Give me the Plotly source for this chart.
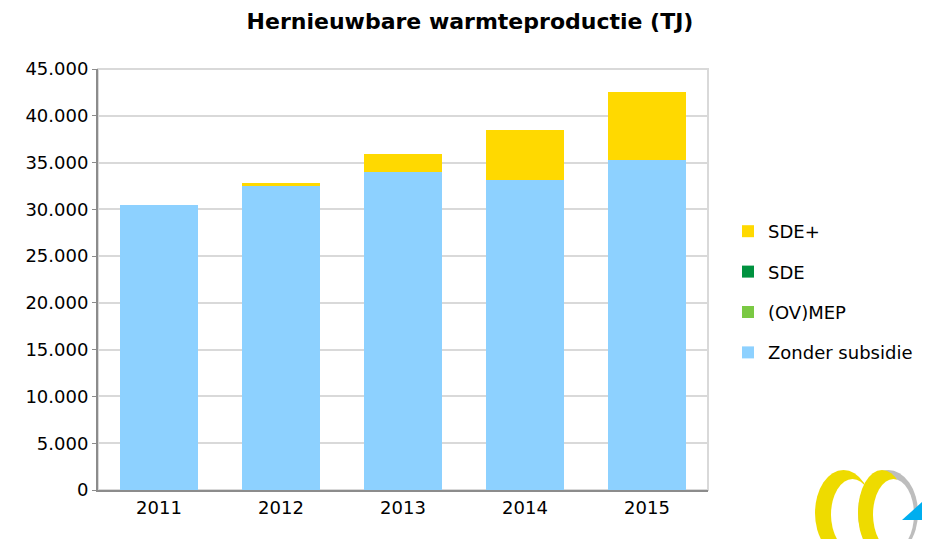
import plotly.graph_objects as go

years = ["2011", "2012", "2013", "2014", "2015"]
zonder_subsidie = [30500, 32450, 33950, 33100, 35300]
ov_mep = [0, 0, 0, 0, 0]
sde = [0, 0, 0, 0, 0]
sde_plus = [0, 400, 2000, 5350, 7200]
y_ticks = [0, 5000, 10000, 15000, 20000, 25000, 30000, 35000, 40000, 45000]
y_tick_labels = ["0", "5.000", "10.000", "15.000", "20.000", "25.000", "30.000", "35.000", "40.000", "45.000"]

FONT = "DejaVu Sans, sans-serif"

# page has an 8px body margin; figure is shifted by (8, 8)
OFF = 8
W, H = 930 - OFF, 539 - OFF
L, R, T, B = 98, 708, 69, 490  # plot area in page pixels

def px(x):
    return (x - L) / (R - L)

def py(y):
    return (B - y) / (B - T)

fig = go.Figure()
series = [
    ("Zonder subsidie", zonder_subsidie, "#8DD1FF", 4),
    ("(OV)MEP", ov_mep, "#7AC943", 3),
    ("SDE", sde, "#00923F", 2),
    ("SDE+", sde_plus, "#FFD900", 1),
]
for name, vals, col, rank in series:
    fig.add_trace(go.Bar(x=years, y=vals, name=name, marker=dict(color=col, line=dict(width=0)),
                         legendgroup=name, legendrank=rank))

def ell(x0, x1, y0, y1, col):
    return dict(type="circle", xref="paper", yref="paper", x0=px(x0), x1=px(x1),
                y0=py(y1), y1=py(y0), fillcolor=col, line=dict(width=0))

shapes = [
    dict(type="rect", xref="paper", yref="paper", x0=0, x1=1, y0=0, y1=1,
         line=dict(color="#D9D9D9", width=2), layer="below"),
    # logo
    ell(815, 872, 470, 556, "#EEDB00"),
    ell(831, 874, 479, 550, "#FFFFFF"),
    ell(858, 918, 470, 556, "#BDBDBD"),
    ell(858, 906, 470, 556, "#EEDB00"),
    ell(873, 914, 479, 550, "#FFFFFF"),
    dict(type="path", xref="paper", yref="paper",
         path=f"M {px(902)},{py(520)} L {px(931)},{py(520)} L {px(931)},{py(494)} Z",
         fillcolor="#00AEEF", line=dict(width=0)),
]

fig.update_layout(
    width=W, height=H,
    margin=dict(l=L - OFF, r=930 - R, t=T - OFF, b=539 - B, pad=0, autoexpand=False),
    paper_bgcolor="white", plot_bgcolor="white",
    barmode="stack", bargap=0.36,
    font=dict(family=FONT, size=18, color="#000000"),
    title=dict(text="<b>Hernieuwbare warmteproductie (TJ)</b>", x=(470 - OFF) / W, xanchor="center",
               y=1 - (21 - OFF) / H, yanchor="middle", yref="container",
               font=dict(family=FONT, size=22, color="#000000")),
    xaxis=dict(showgrid=False, showline=True, linecolor="#8C8C8C", linewidth=2,
               ticks="", tickfont=dict(size=18), fixedrange=True),
    yaxis=dict(range=[0, 45000], tickvals=y_ticks, ticktext=y_tick_labels,
               showgrid=True, gridcolor="#D9D9D9", gridwidth=2,
               showline=True, linecolor="#8C8C8C", linewidth=2,
               ticks="outside", ticklen=4, tickcolor="#8C8C8C",
               tickfont=dict(size=18), zeroline=False),
    legend=dict(x=px(728), y=py(213), xanchor="left", yanchor="top",
                traceorder="grouped", tracegroupgap=14,
                font=dict(size=18), itemwidth=30),
    showlegend=True,
    shapes=shapes,
)

fig.write_html("out.html")
